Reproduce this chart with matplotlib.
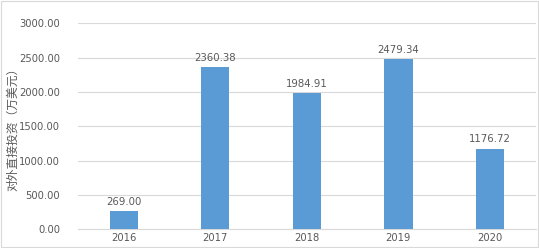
import numpy as np
import matplotlib.pyplot as plt
from matplotlib.patches import Rectangle

plt.rcParams['font.family'] = ['Noto Sans CJK SC', 'DejaVu Sans']

years = ['2016', '2017', '2018', '2019', '2020']
values = [269.00, 2360.38, 1984.91, 2479.34, 1176.72]
yticks = [0, 500, 1000, 1500, 2000, 2500, 3000]

txt = '#595959'

fig = plt.figure(figsize=(5.39, 2.48), dpi=100)
ax = fig.add_axes([0.1447, 0.0754, 0.849, 0.8302])

x = np.arange(len(years))
ax.bar(x, values, width=0.31, color='#5B9BD5', zorder=3)
for xi, v in zip(x, values):
    ax.text(xi, v + 60, '%.2f' % v, ha='center', va='bottom', fontsize=7.3, color=txt,
            family='DejaVu Sans')

ax.set_xlim(-0.5, len(years) - 0.5)
ax.set_ylim(0, 3000)
ax.set_yticks(yticks)
ax.set_yticklabels(['%.2f' % t for t in yticks], family='DejaVu Sans')
ax.set_xticks(x)
ax.set_xticklabels(years, family='DejaVu Sans')
ax.tick_params(axis='both', length=0, labelsize=7.2, labelcolor=txt)
ax.tick_params(axis='y', pad=13)
ax.tick_params(axis='x', pad=3)
ax.grid(axis='y', color='#D9D9D9', lw=0.8, zorder=0)
for s in ['top', 'right', 'left']:
    ax.spines[s].set_visible(False)
ax.spines['bottom'].set_color('#D9D9D9')
ax.set_ylabel('对外直接投资（万美元）', fontsize=8.5, color=txt)
ax.yaxis.set_label_coords(-0.128, 0.5)

fig.patches.append(Rectangle((0.002, 0.004), 0.996, 0.992, transform=fig.transFigure,
                             fill=False, edgecolor='#D9D9D9', lw=0.8))

fig.savefig('out.png', dpi=100)
